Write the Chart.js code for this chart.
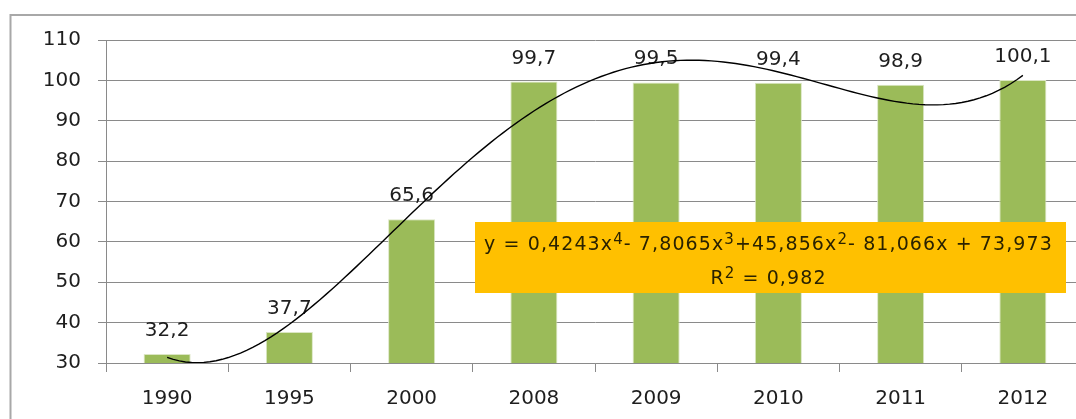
<!DOCTYPE html>
<html>
<head>
<meta charset="utf-8">
<script src="https://cdn.jsdelivr.net/npm/chart.js@4.4.1/dist/chart.umd.min.js"></script>
<style>
  html, body { margin: 0; padding: 0; overflow: hidden; background: #fff; width: 1076px; height: 419px; }
  #wrap { position: relative; width: 1092px; height: 419px; }
</style>
</head>
<body>
<div id="wrap"><canvas id="c" width="1092" height="419"></canvas></div>
<script>
// Categories and measured values
const years = ['1990', '1995', '2000', '2008', '2009', '2010', '2011', '2012'];
const values = [32.2, 37.7, 65.6, 99.7, 99.5, 99.4, 98.9, 100.1];

// Polynomial trend (4th degree), coefficients from x^4 down to x^0
const trendCoefs = [0.4243, -7.8065, 45.856, -81.066, 73.973];
const rSquared = 0.982;

// Value axis range
const yMin = 30, yMax = 110, yStep = 10;

const FONT = '"DejaVu Sans", Verdana, sans-serif';
const TEXT = '#1e1e1e';
const GRID = '#8a8a8a';

const fmt = (v, d) => v.toFixed(d).replace('.', ',');

function trendAt(x) {
  return trendCoefs.reduce((acc, c) => acc * x + c, 0);
}
const trendPoints = [];
for (let i = 0; i <= 140; i++) {
  const x = 1 + i * 0.05;
  trendPoints.push({ x: x, y: trendAt(x) });
}

// Outer frame around the chart
const framePlugin = {
  id: 'frame',
  beforeDraw(chart) {
    const ctx = chart.ctx;
    ctx.save();
    ctx.strokeStyle = '#a8a8a8';
    ctx.lineWidth = 2;
    ctx.strokeRect(10.5, 15, 2000, 1000);
    ctx.restore();
  }
};

// Value labels above the bars (drawn before the trend line)
const barLabelPlugin = {
  id: 'barLabels',
  afterDatasetDraw(chart, args) {
    if (args.index !== 0) return;
    const ctx = chart.ctx;
    ctx.save();
    ctx.font = '20px ' + FONT;
    ctx.fillStyle = TEXT;
    ctx.textAlign = 'center';
    ctx.textBaseline = 'alphabetic';
    args.meta.data.forEach((bar, i) => {
      ctx.fillText(fmt(values[i], 1), bar.x, bar.y - 18);
    });
    ctx.restore();
  }
};

// Trend equation box
const equationPlugin = {
  id: 'equation',
  afterDraw(chart) {
    const ctx = chart.ctx;
    const bx = 475, by = 222, bw = 591, bh = 71;
    ctx.save();
    ctx.fillStyle = '#ffc000';
    ctx.fillRect(bx, by, bw, bh);

    const big = '19px ' + FONT, small = '15px ' + FONT;
    ctx.letterSpacing = '1.1px';
    ctx.fillStyle = '#2a2200';
    ctx.textBaseline = 'alphabetic';
    ctx.textAlign = 'left';

    const c = trendCoefs;
    const sgn = v => (v < 0 ? '- ' : '+');
    const line1 = [
      ['y = ' + fmt(c[0], 4) + 'x', false], ['4', true],
      [sgn(c[1]) + fmt(Math.abs(c[1]), 4) + 'x', false], ['3', true],
      [sgn(c[2]) + fmt(Math.abs(c[2]), 3) + 'x', false], ['2', true],
      [sgn(c[3]) + fmt(Math.abs(c[3]), 3) + 'x + ' + fmt(c[4], 3), false]
    ];
    const line2 = [['R', false], ['2', true], [' = ' + fmt(rSquared, 3), false]];

    const drawLine = (parts, cx, baseline) => {
      let w = 0;
      parts.forEach(([t, sup]) => { ctx.font = sup ? small : big; w += ctx.measureText(t).width; });
      let x = cx - w / 2;
      parts.forEach(([t, sup]) => {
        ctx.font = sup ? small : big;
        ctx.fillText(t, x, sup ? baseline - 6 : baseline);
        x += ctx.measureText(t).width;
      });
    };
    drawLine(line1, bx + bw / 2 - 2, 250);
    drawLine(line2, bx + bw / 2 - 2, 284);
    ctx.restore();
  }
};

const ctx = document.getElementById('c').getContext('2d');
new Chart(ctx, {
  type: 'bar',
  data: {
    labels: years,
    datasets: [
      {
        type: 'bar',
        data: values,
        backgroundColor: '#9bbb59',
        borderColor: '#dbe6c4',
        borderWidth: 1,
        grouped: false,
        barPercentage: 0.385,
        categoryPercentage: 1.0,
        order: 2
      },
      {
        type: 'line',
        xAxisID: 'xt',
        data: trendPoints,
        borderColor: '#000',
        borderWidth: 1.4,
        pointRadius: 0,
        tension: 0,
        fill: false,
        order: 1
      }
    ]
  },
  options: {
    responsive: false,
    animation: false,
    devicePixelRatio: 1,
    layout: { padding: { top: 40, right: 8, left: 0, bottom: 0 } },
    plugins: { legend: { display: false }, tooltip: { enabled: false } },
    scales: {
      x: {
        type: 'category',
        offset: true,
        grid: { display: true, drawOnChartArea: false, drawTicks: true, tickLength: 9, color: GRID, offset: true },
        border: { display: true, color: GRID },
        ticks: { font: { family: FONT, size: 20 }, color: TEXT, padding: 15, maxRotation: 0 },
        afterFit(s) { s.height = 56; }
      },
      xt: {
        type: 'linear',
        display: false,
        offset: false,
        grid: { offset: false },
        min: 0.5,
        max: 8.5
      },
      y: {
        min: yMin,
        max: yMax,
        ticks: { stepSize: yStep, font: { family: FONT, size: 20 }, color: TEXT, padding: 17 },
        grid: { color: GRID, tickLength: 8 },
        border: { display: true, color: GRID },
        afterFit(s) { s.width = 106; }
      }
    }
  },
  plugins: [framePlugin, barLabelPlugin, equationPlugin]
});
</script>
</body>
</html>
